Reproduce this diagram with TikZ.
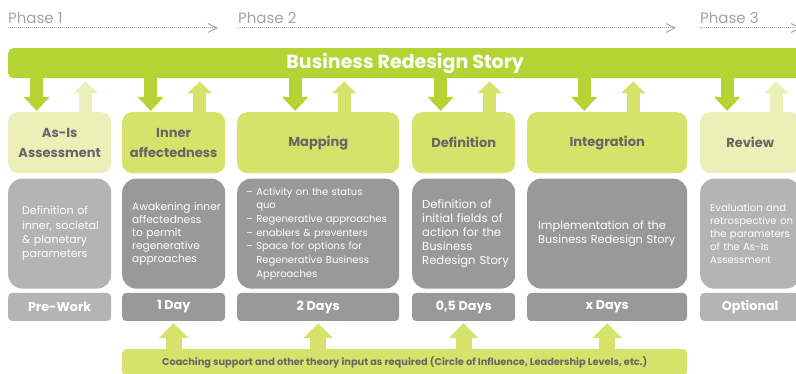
\documentclass[tikz,border=0pt]{standalone}
\usepackage{fontspec}
\setmainfont{Poppins}
\usetikzlibrary{arrows.meta, positioning}
\definecolor{barcol}{HTML}{B5D334}
\definecolor{midgreen}{HTML}{D6E26A}
\definecolor{lightgreen}{HTML}{EAF0B8}
\definecolor{darkbox}{HTML}{999999}
\definecolor{lightbox}{HTML}{B4B4B4}
\definecolor{titlegray}{HTML}{666666}
\definecolor{phasegray}{HTML}{A3A3A3}
\hyphenpenalty=10000
\exhyphenpenalty=10000

\begin{document}
\begin{tikzpicture}[x=1pt,y=-1pt,
		every node/.style={inner sep=0pt},
		titlebox/.style={fill=midgreen, rounded corners=10pt, minimum height=61pt, text=titlegray, align=center, font=\bfseries\fontsize{13}{20}\selectfont},
		descbox/.style={fill=darkbox, rounded corners=14pt, minimum height=110pt, text=white, align=left, font=\fontsize{11}{14.3}\selectfont},
		daybox/.style={fill=darkbox, rounded corners=4pt, minimum height=28pt, text=white, font=\bfseries\fontsize{12.7}{14}\selectfont},
		phase/.style={text=phasegray, font=\fontsize{15}{17}\selectfont, anchor=base west},
		phaseline/.style={phasegray, line width=1pt, dash pattern=on 1pt off 1pt, -{Straight Barb[length=9pt,width=9pt,line width=1pt]}},
		downarr/.style={barcol, line width=13pt, -{Triangle[width=25pt,length=14pt]}},
		uparr/.style={color=#1, line width=13pt, -{Triangle[width=24pt,length=12pt]}},
		coacharr/.style={midgreen, line width=16pt, -{Triangle[width=29pt,length=15pt]}}]
		\useasboundingbox (0,0) rectangle (796,374);
		\clip (0,0) rectangle (796,374);
		
		%----------------------------------------------------------------
		\node(ph1) [phase] at (8,24) {Phase 1};
		\node(ph2) [phase] at (238,24) {Phase 2};
		\node(ph3) [phase] at (700,24) {Phase 3};
		\coordinate (ph1s) at (8,28);   \coordinate (ph1e) at (218,28);
		\coordinate (ph2s) at (238,28); \coordinate (ph2e) at (676,28);
		\coordinate (ph3s) at (700,28); \coordinate (ph3e) at (801,28);
		\draw [phaseline] (ph1s) -- (ph1e);
		\draw [phaseline] (ph2s) -- (ph2e);
		\draw [phaseline] (ph3s) -- (ph3e);
		
		\node(bar) [fill=barcol, rounded corners=5pt, minimum width=794pt, minimum height=30pt, text=white, font=\bfseries\fontsize{19}{21}\selectfont, anchor=north west] at (8,48) {Business Redesign Story};
		
		%----------------------------------------------------------------
		\node(asis) [titlebox, fill=lightgreen, minimum width=103pt, anchor=north west] at (8,112) {As-Is\\Assessment};
		\node(inner) [titlebox, minimum width=103pt, anchor=north west] at (122,112) {Inner\\affectedness};
		\node(mapping) [titlebox, minimum width=162pt, anchor=north west] at (237,112) {Mapping};
		\node(definition) [titlebox, minimum width=103pt, anchor=north west] at (412,112) {Definition};
		\node(integration) [titlebox, minimum width=160pt, anchor=north west] at (527,112) {Integration};
		\node(review) [titlebox, fill=lightgreen, minimum width=100pt, anchor=north west] at (700,112) {Review};
		
		%----------------------------------------------------------------
		\node(asisdesc) [descbox, fill=lightbox, text width=75pt, inner xsep=14pt, below=5pt of asis] {Definition~of\\
			inner,~societal\\
			\&~planetary\\
			parameters};
		\node(innerdesc) [descbox, text width=83pt, inner xsep=10pt, font=\fontsize{10.6}{13}\selectfont, below=5pt of inner] {Awakening~inner\\
			affectedness\\
			to~permit\\
			regenerative\\
			approaches};
		\node(mappingdesc) [descbox, text width=144pt, inner xsep=9pt, font=\fontsize{10}{13.7}\selectfont, below=5pt of mapping] {\textendash\ Activity~on~the~status\\
			\hphantom{\textendash\ }quo\\
			\textendash\ Regenerative~approaches\\
			\textendash\ enablers~\&~preventers\\
			\textendash\ Space~for~options~for\\
			\hphantom{\textendash\ }Regenerative~Business\\
			\hphantom{\textendash\ }Approaches};
		\node(definitiondesc) [descbox, text width=83pt, inner xsep=10pt, font=\fontsize{11.6}{14}\selectfont, below=5pt of definition] {Definition~of\\
			initial~fields~of\\
			action~for~the\\
			Business\\
			Redesign~Story};
		\node(integrationdesc) [descbox, text width=138pt, inner xsep=11pt, font=\fontsize{11.3}{14}\selectfont, below=5pt of integration] {Implementation~of~the\\
			Business~Redesign~Story};
		\node(reviewdesc) [descbox, fill=lightbox, text width=80pt, inner xsep=10pt, font=\fontsize{10.1}{13}\selectfont, below=5pt of review] {Evaluation~and\\
			retrospective~on\\
			the~parameters\\
			of~the~As-Is\\
			Assessment};
		
		%----------------------------------------------------------------
		\node(asisday) [daybox, fill=lightbox, minimum width=103pt, below=4pt of asisdesc] {Pre-Work};
		\node(innerday) [daybox, minimum width=103pt, below=4pt of innerdesc] {1 Day};
		\node(mappingday) [daybox, minimum width=162pt, below=4pt of mappingdesc] {2 Days};
		\node(definitionday) [daybox, minimum width=103pt, below=4pt of definitiondesc] {0,5 Days};
		\node(integrationday) [daybox, minimum width=160pt, below=4pt of integrationdesc] {x Days};
		\node(reviewday) [daybox, fill=lightbox, minimum width=100pt, below=4pt of reviewdesc] {Optional};
		
		\node(coach) [fill=midgreen, rounded corners=4pt, minimum width=565pt, minimum height=26pt, text=titlegray, font=\bfseries\fontsize{9.8}{11}\selectfont, anchor=north west] at (122,349) {Coaching support and other theory input as required (Circle of Influence, Leadership Levels, etc.)};
		
		%----------------------------------------------------------------
		\foreach \col/\upcol in {asis/lightgreen, inner/midgreen, mapping/midgreen, definition/midgreen, integration/midgreen, review/lightgreen} {
			\draw [downarr] ([xshift=-23pt]\col.north |- bar.south) -- ([xshift=-23pt,yshift=1pt]\col.north);
			\draw [uparr=\upcol] ([xshift=26pt]\col.north) -- ([xshift=26pt,yshift=-3pt]\col.north |- bar.south);
		}
		\foreach \day in {innerday, mappingday, definitionday, integrationday}
			\draw [coacharr] (coach.north -| \day.south) -- ([yshift=-2pt]\day.south);
		
	\end{tikzpicture}
\end{document}
